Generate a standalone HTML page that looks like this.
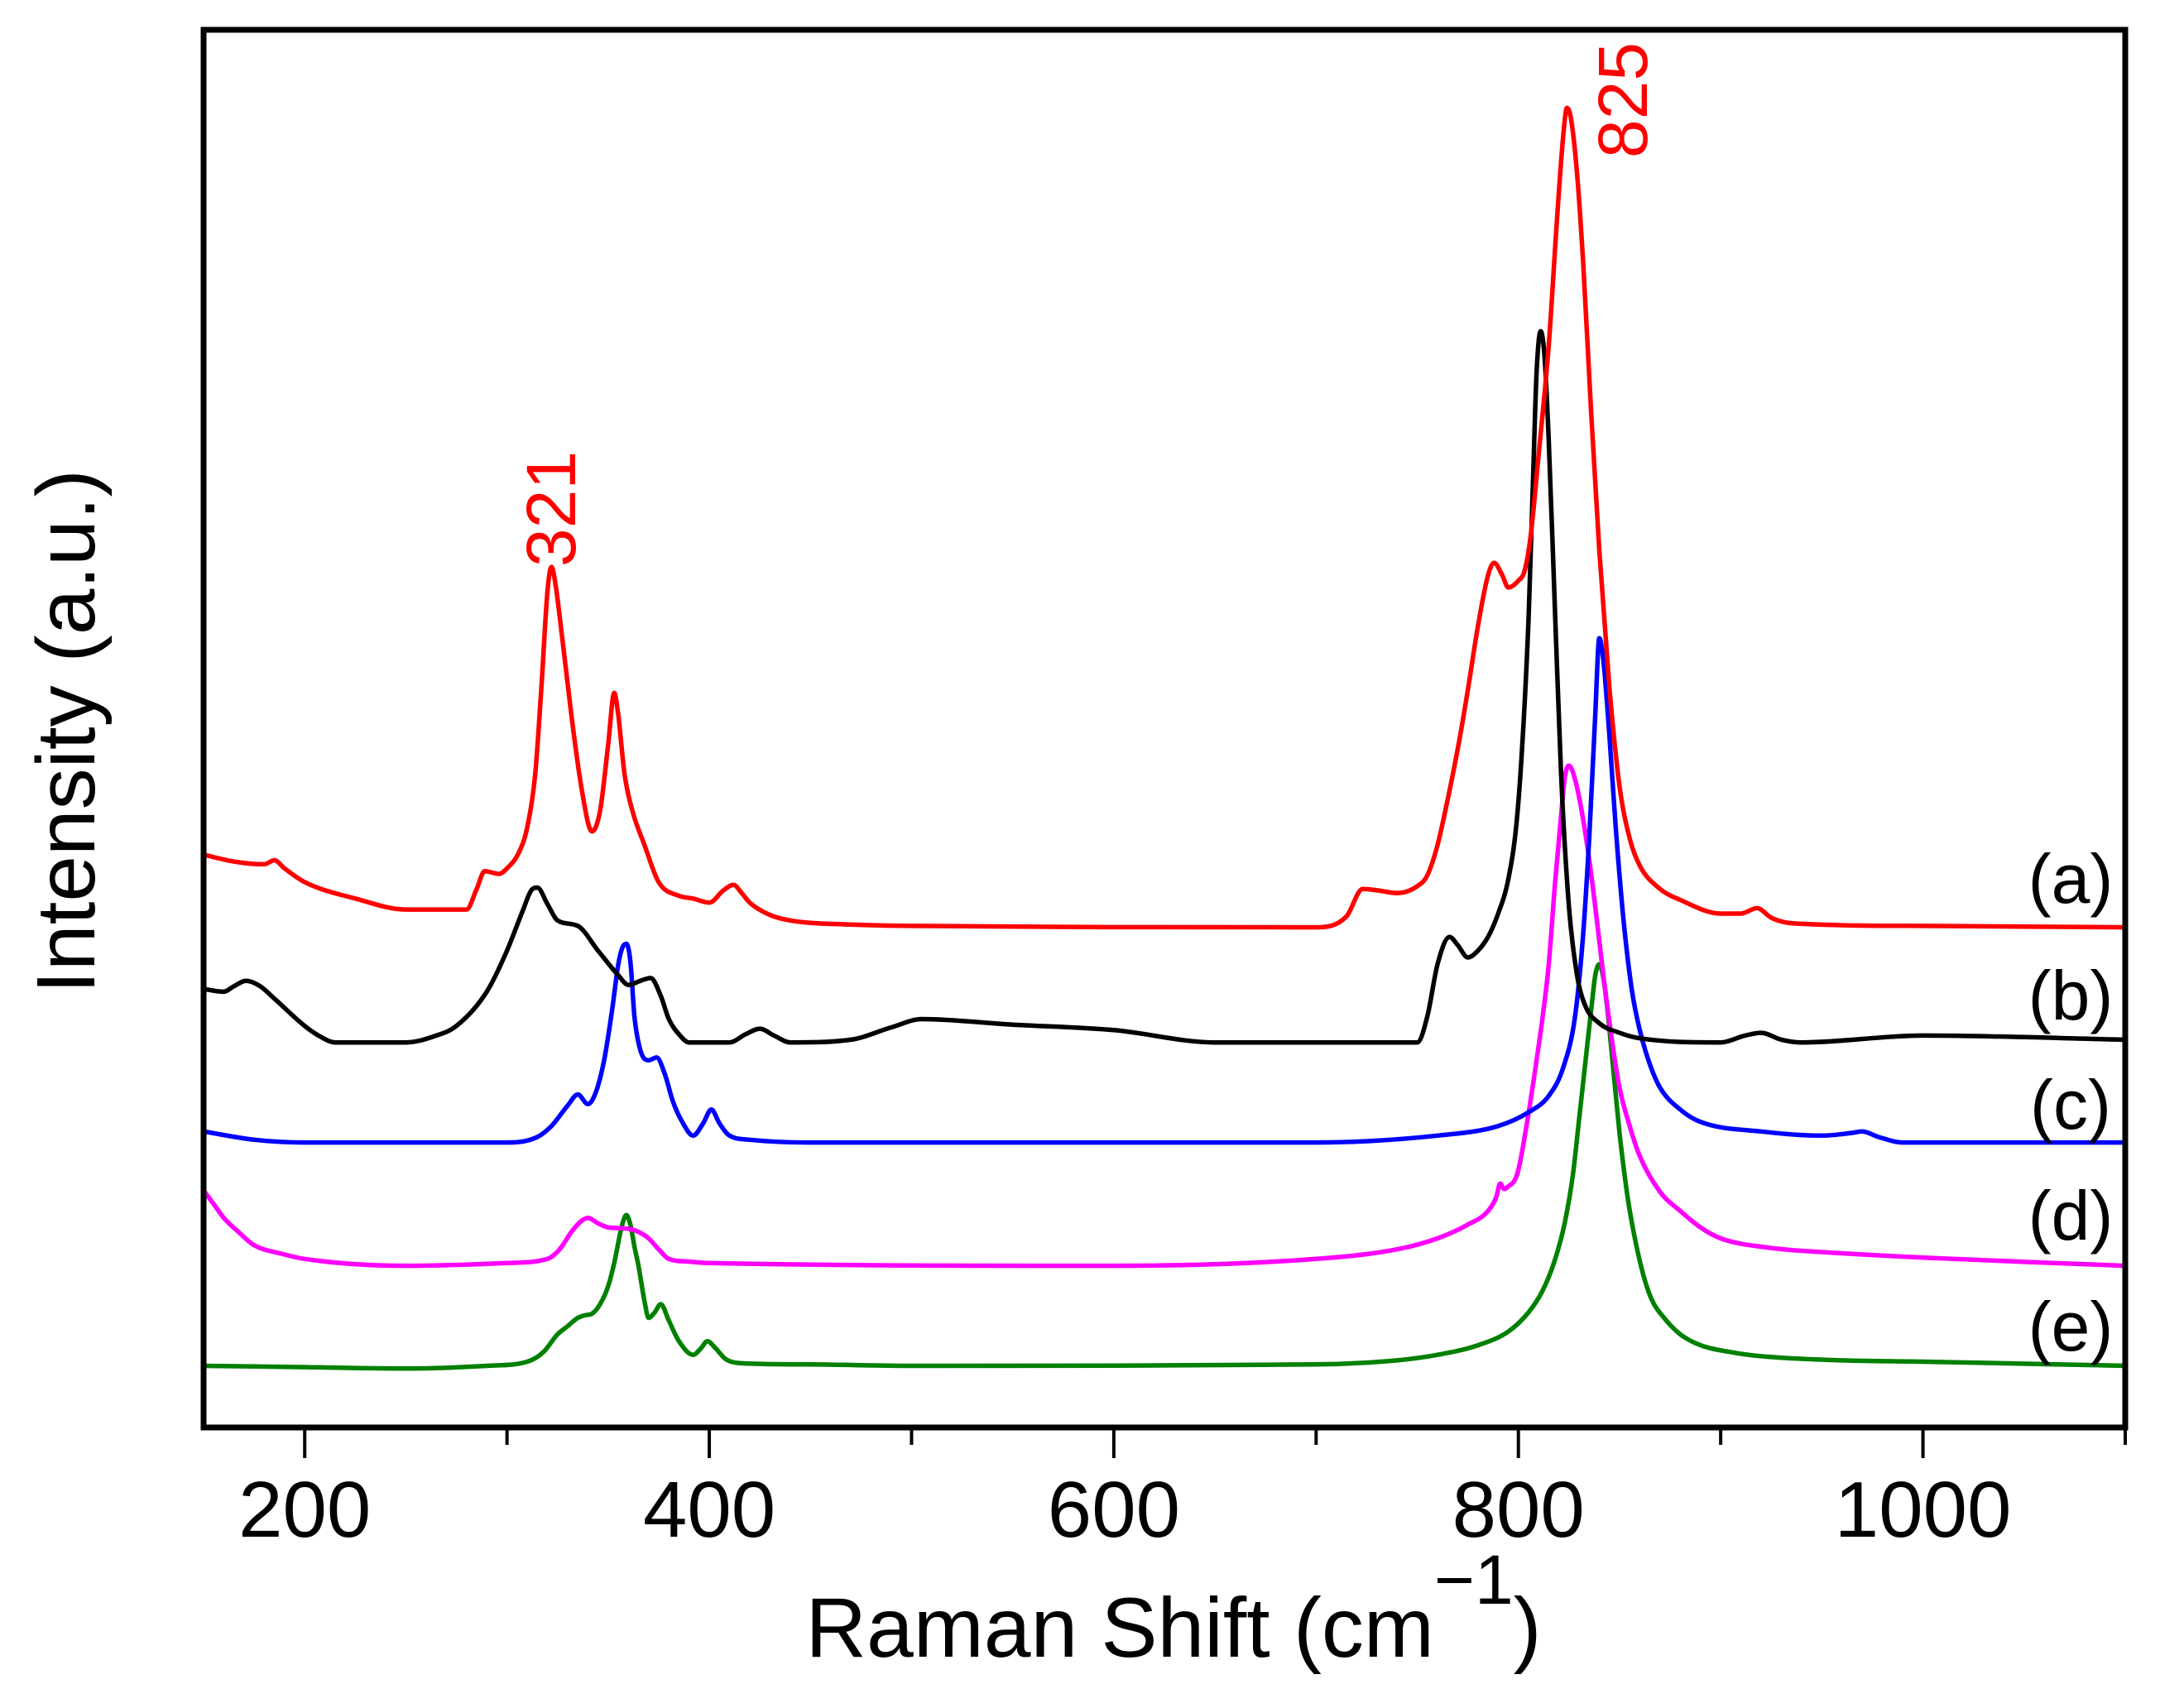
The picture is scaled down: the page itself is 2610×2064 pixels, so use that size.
<!DOCTYPE html>
<html><head><meta charset="utf-8"><style>
html,body{margin:0;padding:0;background:#fff;}
svg{display:block;font-family:"Liberation Sans",Arial,sans-serif;}
</style></head><body>
<svg id="chart" width="2610" height="2064" viewBox="0 0 2610 2064" xmlns="http://www.w3.org/2000/svg">
<rect x="0" y="0" width="2610" height="2064" fill="#fff"/>
<g id="series"></g>
<rect x="246" y="36" width="2322" height="1689" fill="none" stroke="#000" stroke-width="7"/>
<g id="ticks"></g>
<text x="1418" y="2002" font-size="102" text-anchor="middle">Raman Shift (cm<tspan dy="-64" font-size="84">−1</tspan><tspan dy="64">)</tspan></text>
<text transform="translate(114,884) rotate(-90)" font-size="100" text-anchor="middle">Intensity (a.u.)</text>
<text transform="translate(695,615) rotate(-90)" font-size="84" fill="#ff0000" text-anchor="middle">321</text>
<text transform="translate(1990,121) rotate(-90)" font-size="84" fill="#ff0000" text-anchor="middle">825</text>
<g id="labels"></g>
</svg>
<script>
const xTicks=[200,300,400,500,600,700,800,900,1000,1100];
const xTickLabels=["200","","400","","600","","800","","1000",""];
const seriesNames=["(a)","(b)","(c)","(d)","(e)"];
const seriesColors=["#ff0000","#000000","#0000ff","#ff00ff","#008000"];
const seriesA=[[150,418],[165,413],[180,411],[185,414],[190,408],[200,398],[225,386],[250,378],[280,378],[285,393],[289,406],[296,404],[300,408],[306,420],[310,438],[314,478],[317,540],[320,610],[322,628],[324,615],[327,580],[332,518],[337,465],[342,435],[346,450],[350,498],[353,536],[355,520],[358,478],[362,450],[368,425],[375,398],[385,388],[392,386],[400,383],[407,392],[412,396],[416,390],[420,383],[430,374],[440,370],[470,367],[500,366],[700,365],[715,373],[723,393],[730,392],[740,390],[750,395],[755,403],[760,425],[765,458],[770,495],[775,538],[780,585],[785,622],[788,631],[792,622],[795,613],[800,618],[803,625],[806,650],[810,710],[815,790],[819,880],[822,940],[824,963],[826,955],[829,915],[832,850],[836,740],[840,640],[845,540],[850,468],[855,430],[860,410],[870,393],[880,385],[900,375],[910,375],[918,379],[925,372],[935,368],[1000,366],[1100,365]];
const seriesB=[[150,320],[160,318],[165,322],[171,326],[178,322],[185,313],[200,293],[208,285],[215,281],[250,281],[265,286],[275,293],[290,318],[300,348],[308,378],[312,392],[315,394],[320,382],[325,370],[335,366],[345,348],[355,330],[360,323],[366,326],[371,328],[376,315],[380,298],[385,287],[390,281],[410,281],[418,287],[425,291],[432,286],[440,281],[470,283],[490,292],[505,298],[550,294],[600,290],[650,281],[750,281],[755,300],[760,338],[766,358],[770,352],[775,343],[780,348],[785,358],[790,375],[795,400],[799,440],[802,500],[805,590],[807,680],[809,770],[811,800],[813,780],[815,720],[818,600],[821,480],[825,380],[829,330],[833,308],[840,295],[850,288],[860,284],[900,281],[912,286],[920,288],[930,283],[940,281],[1000,286],[1100,283]];
const seriesC=[[150,216],[175,210],[200,208],[300,208],[315,212],[322,220],[330,235],[335,243],[340,236],[344,245],[348,268],[352,305],[355,338],[357,350],[359,353],[361,340],[363,300],[366,275],[370,268],[374,270],[378,258],[382,238],[387,222],[392,213],[397,222],[401,232],[405,222],[410,213],[420,210],[450,208],[700,208],[760,213],[790,220],[805,230],[815,242],[822,262],[828,300],[832,360],[835,430],[838,520],[840,576],[842,560],[845,505],[848,440],[852,370],[856,320],[860,290],[865,265],[870,248],[880,232],[890,223],[920,216],[950,213],[965,215],[970,216],[978,212],[990,208],[1100,208]];
const seriesD=[[150,173],[155,163],[160,153],[167,143],[175,133],[188,127],[200,123],[250,118],[300,120],[320,123],[326,130],[332,143],[337,151],[340,153],[345,149],[350,146],[360,145],[366,142],[370,138],[375,130],[380,123],[390,121],[400,120],[600,118],[700,123],[740,130],[760,138],[775,148],[785,158],[789,168],[791,178],[793,174],[795,176],[798,180],[800,188],[804,220],[808,258],[812,300],[815,338],[818,395],[821,445],[823,475],[825,483],[827,478],[830,460],[834,425],[838,380],[842,330],[846,285],[850,248],[855,220],[860,198],[870,172],[880,158],[890,146],[900,138],[925,131],[950,128],[1000,124],[1100,118]];
const seriesE=[[150,45],[200,44],[250,43],[290,45],[310,48],[318,55],[325,68],[330,74],[335,80],[339,82],[342,83],[346,90],[350,103],[353,120],[356,142],[358,153],[359,155],[361,148],[363,132],[365,118],[368,92],[370,80],[373,84],[376,90],[380,78],[385,63],[392,53],[396,58],[399,63],[403,58],[408,50],[415,47],[450,46],[500,45],[700,46],[740,49],[760,53],[780,60],[795,70],[805,84],[812,100],[818,122],[823,150],[827,185],[830,225],[833,265],[836,305],[838,330],[840,338],[842,328],[844,305],[847,260],[850,215],[854,168],[858,135],[862,110],[866,93],[872,80],[880,68],[890,60],[905,55],[920,52],[960,49],[1000,48],[1100,45]];
const allSeries=[seriesA,seriesB,seriesC,seriesD,seriesE];
const NS="http://www.w3.org/2000/svg";
const X0=150,X1=1100,PX0=246,PX1=2568,Y0=0,Y1=1020,PY0=1725,PY1=36;
const labelY=[1062,1203,1335,1469,1603];
function xs(v){return PX0+(v-X0)/(X1-X0)*(PX1-PX0);}
function ys(v){return PY0-(v-Y0)/(Y1-Y0)*(PY0-PY1);}
function pathFor(pts){
  const p=pts.map(d=>[xs(d[0]),ys(d[1])]);
  const n=p.length,dk=[],m=[];
  for(let i=0;i<n-1;i++)dk.push((p[i+1][1]-p[i][1])/(p[i+1][0]-p[i][0]));
  m[0]=dk[0];m[n-1]=dk[n-2];
  for(let i=1;i<n-1;i++){m[i]=(dk[i-1]*dk[i]<=0)?0:(dk[i-1]+dk[i])/2;}
  for(let i=0;i<n-1;i++){
    if(dk[i]===0){m[i]=0;m[i+1]=0;continue;}
    const a=m[i]/dk[i],b=m[i+1]/dk[i],s=a*a+b*b;
    if(s>9){const t=3/Math.sqrt(s);m[i]=t*a*dk[i];m[i+1]=t*b*dk[i];}
  }
  let s="M"+p[0][0].toFixed(1)+","+p[0][1].toFixed(1);
  for(let i=0;i<n-1;i++){
    const h=(p[i+1][0]-p[i][0])/3;
    s+=" C"+(p[i][0]+h).toFixed(1)+","+(p[i][1]+m[i]*h).toFixed(1)+" "+(p[i+1][0]-h).toFixed(1)+","+(p[i+1][1]-m[i+1]*h).toFixed(1)+" "+p[i+1][0].toFixed(1)+","+p[i+1][1].toFixed(1);
  }
  return s;
}
const sg=document.getElementById("series");
[4,3,2,1,0].forEach(i=>{
  const el=document.createElementNS(NS,"path");
  el.setAttribute("d",pathFor(allSeries[i]));
  el.setAttribute("fill","none");
  el.setAttribute("stroke",seriesColors[i]);
  el.setAttribute("stroke-width","5.5");
  el.setAttribute("stroke-linejoin","round");
  
  
  sg.appendChild(el);
});
const tg=document.getElementById("ticks");
xTicks.forEach((t,i)=>{
  const major=xTickLabels[i]!=="";
  const ln=document.createElementNS(NS,"line");
  ln.setAttribute("x1",xs(t));ln.setAttribute("x2",xs(t));
  ln.setAttribute("y1",1725);ln.setAttribute("y2",1725+(major?37:21));
  ln.setAttribute("stroke","#000");ln.setAttribute("stroke-width","4");
  
  
  tg.appendChild(ln);
  if(major){
    const tx=document.createElementNS(NS,"text");
    tx.setAttribute("x",xs(t));tx.setAttribute("y",1857);
    tx.setAttribute("font-size","96");tx.setAttribute("text-anchor","middle");
    tx.textContent=xTickLabels[i];
    
    
    tg.appendChild(tx);
  }
});
const lg=document.getElementById("labels");
seriesNames.forEach((n,i)=>{
  const tx=document.createElementNS(NS,"text");
  tx.setAttribute("x",2502);tx.setAttribute("y",labelY[i]);
  tx.setAttribute("font-size","84");tx.setAttribute("text-anchor","middle");
  tx.setAttribute("dominant-baseline","central");
  tx.textContent=n;
  
  
  lg.appendChild(tx);
});
</script>
</body></html>
